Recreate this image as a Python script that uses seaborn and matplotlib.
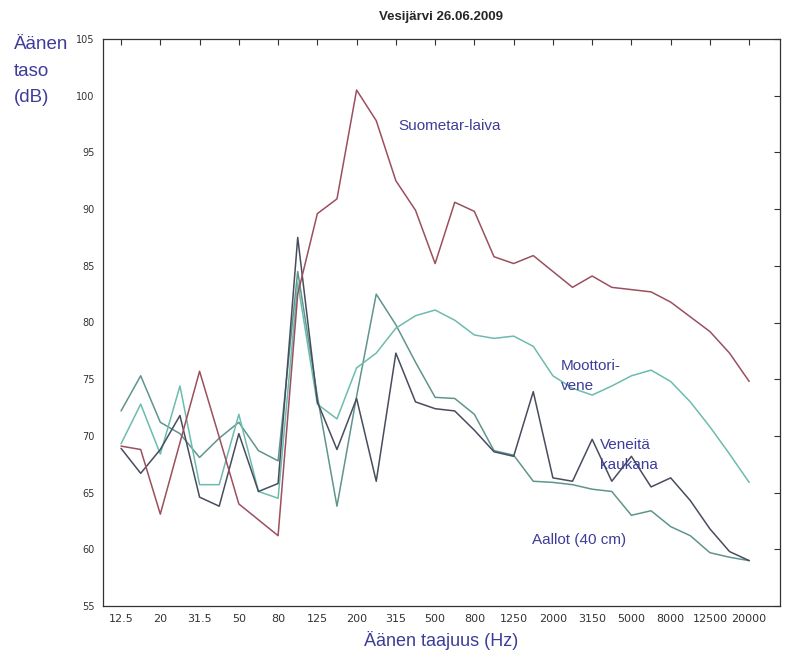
import matplotlib
matplotlib.use("Agg")
import matplotlib.pyplot as plt
import seaborn as sns
import pandas as pd
import numpy as np

bands = ["12.5", "16", "20", "25", "31.5", "40", "50", "63", "80", "100", "125", "160",
         "200", "250", "315", "400", "500", "630", "800", "1000", "1250", "1600", "2000",
         "2500", "3150", "4000", "5000", "6300", "8000", "10000", "12500", "16000", "20000"]

suometar = [69.1, 68.8, 63.1, 69.4, 75.7, 69.9, 64.0, 62.6, 61.2, 82.5, 89.6, 90.9, 100.5,
            97.8, 92.5, 89.9, 85.2, 90.6, 89.8, 85.8, 85.2, 85.9, 84.5, 83.1, 84.1, 83.1,
            82.9, 82.7, 81.8, 80.5, 79.2, 77.3, 74.8]
moottori = [69.3, 72.8, 68.4, 74.4, 65.7, 65.7, 71.9, 65.1, 64.5, 83.5, 72.8, 71.5, 76.0,
            77.3, 79.5, 80.6, 81.1, 80.2, 78.9, 78.6, 78.8, 77.9, 75.3, 74.2, 73.6, 74.4,
            75.3, 75.8, 74.8, 73.0, 70.8, 68.4, 65.9]
veneita = [68.9, 66.7, 68.8, 71.8, 64.6, 63.8, 70.2, 65.1, 65.8, 87.5, 73.0, 68.8, 73.3,
           66.0, 77.3, 73.0, 72.4, 72.2, 70.5, 68.6, 68.2, 73.9, 66.3, 66.0, 69.7, 66.0,
           68.2, 65.5, 66.3, 64.3, 61.8, 59.8, 59.0]
aallot = [72.2, 75.3, 71.2, 70.2, 68.1, 69.8, 71.2, 68.7, 67.8, 84.5, 73.5, 63.8, 73.5,
          82.5, 79.8, 76.5, 73.4, 73.3, 71.9, 68.7, 68.3, 66.0, 65.9, 65.7, 65.3, 65.1,
          63.0, 63.4, 62.0, 61.2, 59.7, 59.3, 59.0]

series_names = ["Suometar-laiva", "Moottorivene", "Veneitä kaukana", "Aallot (40 cm)"]
series_vals = [suometar, moottori, veneita, aallot]
y_ticks = [55, 60, 65, 70, 75, 80, 85, 90, 95, 100, 105]

rows = []
for name, vals in zip(series_names, series_vals):
    for i, v in enumerate(vals):
        rows.append({"idx": i, "band": bands[i], "dB": v, "series": name})
df = pd.DataFrame(rows)

sns.set_style("white")
plt.rcParams["font.family"] = ["Liberation Sans", "DejaVu Sans"]

palette = {"Suometar-laiva": "#9c4f5e", "Moottorivene": "#6cbcae",
           "Veneitä kaukana": "#474d5e", "Aallot (40 cm)": "#5f958d"}

fig = plt.figure(figsize=(7.89, 6.62), dpi=100)
ax = fig.add_axes([103 / 789, 1 - 606 / 662, (780 - 103) / 789, (606 - 39) / 662])

sns.lineplot(data=df, x="idx", y="dB", hue="series", palette=palette,
             hue_order=["Aallot (40 cm)", "Moottorivene", "Veneitä kaukana", "Suometar-laiva"],
             linewidth=1.1, legend=False, ax=ax, estimator=None, sort=False)

ax.set_xlim(-0.92, 33.57)
ax.set_ylim(55, 105)
tick_idx = list(range(0, len(bands), 2))
ax.set_xticks(tick_idx)
narrow = ["Liberation Sans Narrow", "DejaVu Sans"]
ax.set_xticklabels([bands[i] for i in tick_idx], fontsize=8, family=narrow)
ax.set_yticks(y_ticks)
ax.set_yticklabels([str(t) for t in y_ticks], fontsize=7, family=narrow)
ax.tick_params(direction="in", length=4, width=0.8, top=True, right=True,
               colors="#333333", pad=6)
for s in ax.spines.values():
    s.set_color("#333333")
    s.set_linewidth(0.9)
ax.set_xlabel("")
ax.set_ylabel("")

fig.text(441 / 789, 1 - 17 / 662, "Vesijärvi 26.06.2009", fontsize=9.5, fontweight="bold",
         ha="center", va="center")

lab_col = "#3d3d99"
fig.text(14 / 789, 1 - 36 / 662, "Äänen\ntaso\n(dB)", color=lab_col, fontsize=13.5,
         va="top", ha="left", linespacing=1.75)
fig.text(441 / 789, 1 - 640 / 662, "Äänen taajuus (Hz)", color=lab_col, fontsize=13,
         va="center", ha="center")

ax.text(14.15, 97.3, "Suometar-laiva", color=lab_col, fontsize=11, va="center", ha="left")
ax.text(22.4, 75.3, "Moottori-\nvene", color=lab_col, fontsize=11, va="center", ha="left",
        linespacing=1.5)
ax.text(24.4, 68.3, "Veneitä\nkaukana", color=lab_col, fontsize=11, va="center", ha="left",
        linespacing=1.5)
ax.text(20.95, 60.8, "Aallot (40 cm)", color=lab_col, fontsize=11, va="center", ha="left")

fig.savefig("out.png", dpi=100)
